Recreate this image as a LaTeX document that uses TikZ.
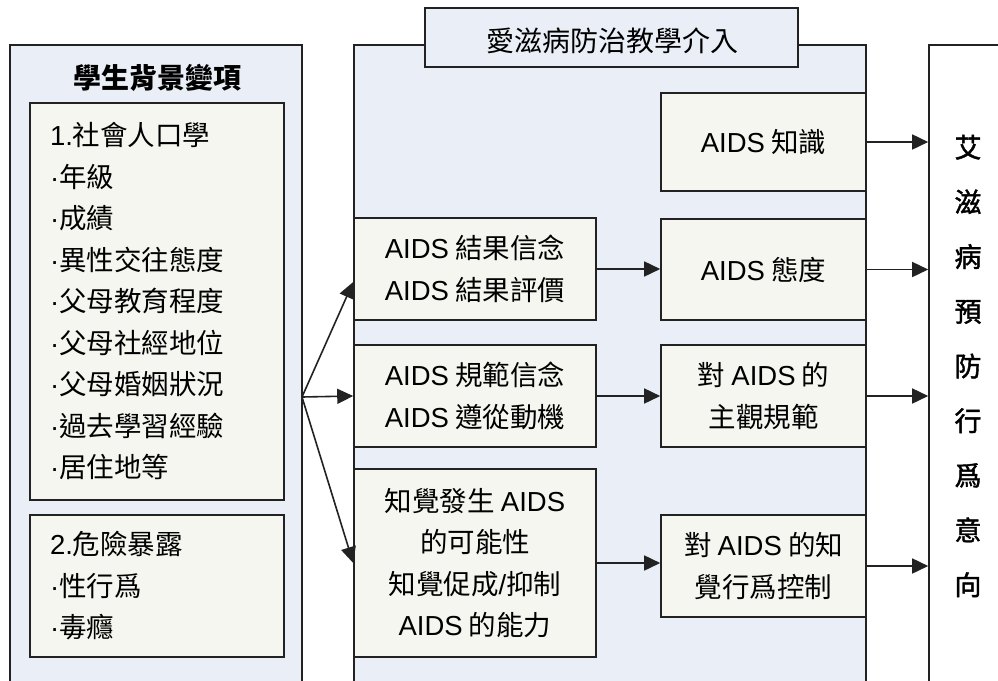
\documentclass[tikz,border=0pt]{standalone}
\usepackage{fontspec}
\setmainfont{Noto Sans CJK TC}
\newfontfamily\latinfont{Liberation Sans}
\newfontfamily\cjkmed[FakeBold=1.5]{Noto Sans CJK TC}
\usepackage{tikz}
\usetikzlibrary{arrows.meta,positioning,calc}
\definecolor{outerfill}{RGB}{234,239,247}
\definecolor{innerfill}{RGB}{244,246,239}
\definecolor{linegray}{RGB}{34,34,34}
\newcommand{\aids}{{\latinfont AIDS}}
\newcommand{\pt}{{\latinfont ·}}

\begin{document}
\begin{tikzpicture}[x=1pt, y=-1pt,
    outer/.style={rectangle, draw=linegray, line width=1.6pt, fill=outerfill, inner sep=0pt},
    inner/.style={rectangle, draw=linegray, line width=1.6pt, fill=innerfill, align=center,
        inner sep=0pt, font=\fontsize{27.5}{41.5}\selectfont},
    list/.style={inner, align=left, text width=214pt, inner xsep=20pt},
    arr/.style={-{Triangle[length=16pt,width=15pt]}, line width=1.6pt, linegray}]
\useasboundingbox (0,0) rectangle (998,680);

% 三個外框(下緣超出頁面)
\node[outer, minimum width=292pt, minimum height=645pt] (bg) at (156,367.5) {};
\node[outer, minimum width=512pt, minimum height=645pt] (edu) at (610,367.5) {};
\node[outer, fill=white, minimum width=120pt, minimum height=645pt] (out) at (989,367.5) {};

% 標題
\node[font=\fontsize{28}{30}\selectfont\bfseries] (bgtitle) at (157,78) {學生背景變項};
\node[outer, minimum width=373pt, minimum height=59pt] (edutitle) at (611.5,37.5) {};
\node[font=\fontsize{28}{30}\selectfont] at (612,41) {愛滋病防治教學介入};

% 學生背景變項
\node[list, minimum height=397pt] (demo) at (157,301.5)
    {{\latinfont 1.}社會人口學\\\pt 年級\\\pt 成績\\\pt 異性交往態度\\\pt 父母教育程度\\\pt 父母社經地位\\\pt 父母婚姻狀況\\\pt 過去學習經驗\\\pt 居住地等};
\node[list, minimum height=142pt] (risk) at (157,586) {{\latinfont 2.}危險暴露\\\pt 性行爲\\\pt 毒癮};

% 教學介入 - 左欄
\node[inner, minimum width=242pt, minimum height=102pt] (belief) at (475,269) {\aids{} 結果信念\\\aids{} 結果評價};
\node[inner, minimum width=242pt, minimum height=102pt] (norm) at (475,396) {\aids{} 規範信念\\\aids{} 遵從動機};
\node[inner, minimum width=242pt, minimum height=188pt] (ctrl) at (475,563)
    {知覺發生 \aids\\的可能性\\知覺促成{\latinfont /}抑制\\\aids{} 的能力};

% 教學介入 - 右欄
\node[inner, minimum width=205pt, minimum height=98pt] (know) at (763.5,142) {\aids{} 知識};
\node[inner, minimum width=205pt, minimum height=101pt] (att) at (763.5,269.5) {\aids{} 態度};
\node[inner, minimum width=205pt, minimum height=102pt] (subj) at (763.5,396) {對 \aids{} 的\\主觀規範};
\node[inner, minimum width=205pt, minimum height=102pt] (pbc) at (763.5,566) {對 \aids{} 的知\\覺行爲控制};

% 行為意向(直排)
\node[align=center, font=\fontsize{27}{54.7}\selectfont\cjkmed] (intent) at (968,366)
    {艾\\滋\\病\\預\\防\\行\\爲\\意\\向};

% 背景變項分出三支箭頭
\coordinate (fan) at (302,397);
\draw[arr] (fan) -- ($(belief.west)+(0,13)$);
\draw[arr] (fan) -- (norm.west);
\draw[arr] (fan) -- (ctrl.west);

% 左欄到右欄
\foreach \a/\b in {belief/att, norm/subj, ctrl/pbc}
    \draw[arr] (\a.east) -- (\a.east -| \b.west);

% 右欄到行為意向
\foreach \b in {know, att, subj, pbc}
    \draw[arr] (\b.east) -- (\b.east -| out.west);
\end{tikzpicture}
\end{document}
